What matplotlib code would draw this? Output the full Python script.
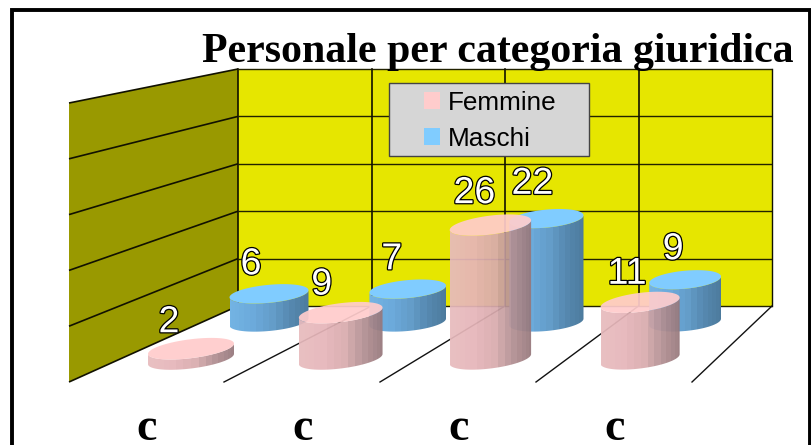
import matplotlib
matplotlib.use('Agg')
import matplotlib.pyplot as plt
import matplotlib.patheffects as pe
import numpy as np
from matplotlib.patches import Patch, Polygon, Rectangle

title = 'Personale per categoria giuridica'
categories = ['c', 'c', 'c', 'c']
femmine = [2, 9, 26, 11]
maschi = [6, 7, 22, 9]
grid_values = [0, 10, 20, 30, 40, 50]

pink_top = '#FFCCCC'
pink_body = ['#E8BBBE', '#E6B5B9', '#D9ABAE', '#B08D90', '#94767A']
blue_top = '#80CCFF'
blue_body = ['#73B4E4', '#6CAADB', '#649DC9', '#5587AE', '#4C7A9C']


def cylinder(cx, floor_y, a, b, tilt, height, top_color, body_colors, alpha, z):
    # front side: banded gradient image clipped to the cylinder outline
    n_bands = 18
    rgb = np.array([matplotlib.colors.to_rgb(c) for c in body_colors])
    shade = np.linspace(0, 1, len(body_colors))
    u = np.linspace(-1, 1, 160)
    band = np.floor(np.arccos(-u) / np.pi * n_bands) / n_bands
    pos = (1 - np.cos(band * np.pi)) / 2
    img = np.stack([np.interp(pos, shade, rgb[:, k]) for k in range(3)], axis=-1)[None, :, :]
    t = np.linspace(np.pi, 0, 60)
    x = cx + a * np.cos(t)
    y = floor_y + b * np.sin(t) - a * tilt * np.cos(t)
    pts = np.concatenate([np.c_[x, y], np.c_[x, y - height][::-1]])
    im = ax.imshow(img, extent=(cx - a, cx + a, floor_y + b + 8, floor_y - height - b - 8), aspect='auto',
                   interpolation='nearest', alpha=alpha, zorder=z)
    clip = Polygon(pts, transform=ax.transData)
    im.set_clip_path(clip)
    t = np.linspace(0, 2 * np.pi, 90)
    x = cx + a * np.cos(t)
    y = floor_y - height + b * np.sin(t) - a * tilt * np.cos(t)
    ax.add_patch(Polygon(np.c_[x, y], facecolor=top_color, edgecolor='none', alpha=alpha, zorder=z + 0.1))


fig = plt.figure(figsize=(8.11, 4.45), dpi=100)
ax = fig.add_axes([0, 0, 1, 1])
ax.axis('off')

# frame
ax.add_patch(Rectangle((11.5, 10), 798, 470, facecolor='white', edgecolor='black', linewidth=2.8, zorder=0))

# walls
back_x = np.linspace(238, 772, 5)
front_x = np.array([69, 224, 380, 536, 692])
ax.add_patch(Rectangle((238, 69), 534, 237, facecolor='#E6E600', edgecolor='none', zorder=1))
ax.add_patch(Polygon([(69, 103), (238, 69), (238, 306), (69, 382)], facecolor='#999900', edgecolor='none', zorder=1))

for v in grid_values:
    y_back = 306 - v * 4.74
    y_front = 382 - v * 5.58
    ax.plot([69, 238], [y_front, y_back], color='#111100', lw=1.2, zorder=2, solid_capstyle='butt')
    ax.plot([238, 772], [y_back, y_back], color='#222200', lw=1.0, zorder=2, solid_capstyle='butt')
for i, (bx, fx) in enumerate(zip(back_x, front_x)):
    ax.plot([bx, bx], [69, 306], color='#111100', lw=1.0 if i == 4 else 1.2, zorder=2)
    if i > 0:
        ax.plot([bx, fx], [306, 382], color='#111111', lw=1.0, zorder=2)

# bars, back row first
for i, v in enumerate(maschi):
    cx = 269 + 138.7 * i
    top = 322 - v * 4.7
    cylinder(cx, 322, 39.5 - 1.2 * i, 9, 0.09, v * 4.7, blue_top, blue_body, 1.0, 3)
    ax.text(cx - 18 + 2 * i, top - 27.5 - v * 0.33, str(v), fontsize=27, family='Liberation Sans', color='white',
            ha='center', va='center', zorder=7,
            path_effects=[pe.withStroke(linewidth=1.8, foreground='black')])

for i, v in enumerate(femmine):
    cx = 191 + 149.7 * i
    top = 359 - v * 5.15
    cylinder(cx, 359, 43 - 1.15 * i, 9.5, 0.12, v * 5.15, pink_top, pink_body, 0.93, 5)
    ax.text(cx - 22 + 3 * i, top - 26 - v * 0.23, str(v), fontsize=27, family='Liberation Sans', color='white',
            ha='center', va='center', zorder=7,
            path_effects=[pe.withStroke(linewidth=1.8, foreground='black')])

for i, c in enumerate(categories):
    ax.text(147 + 156 * i, 440, c, fontsize=33, family='Liberation Serif', fontweight='bold',
            ha='center', va='baseline', zorder=8)

ax.text(202, 62, title, fontsize=30.2, family='Liberation Serif', fontweight='bold',
        ha='left', va='baseline', zorder=8)

# legend
ax.add_patch(Rectangle((389, 83), 200, 73, facecolor='#D6D6D6', edgecolor='#444444', linewidth=1.0, zorder=8))
handles = [Patch(facecolor=pink_top, label='Femmine'), Patch(facecolor=blue_top, label='Maschi')]

ax.set_xlim(0, 811)
ax.set_ylim(445, 0)

leg = ax.legend(handles=handles, loc='upper left', bbox_to_anchor=(424, 91), bbox_transform=ax.transData,
                frameon=False, handlelength=0.62, handleheight=0.62, handletextpad=0.3,
                labelspacing=0.45, borderpad=0, borderaxespad=0,
                prop={'family': 'Liberation Sans', 'size': 18.8})
leg.set_zorder(9)

fig.savefig('out.png', dpi=100)
